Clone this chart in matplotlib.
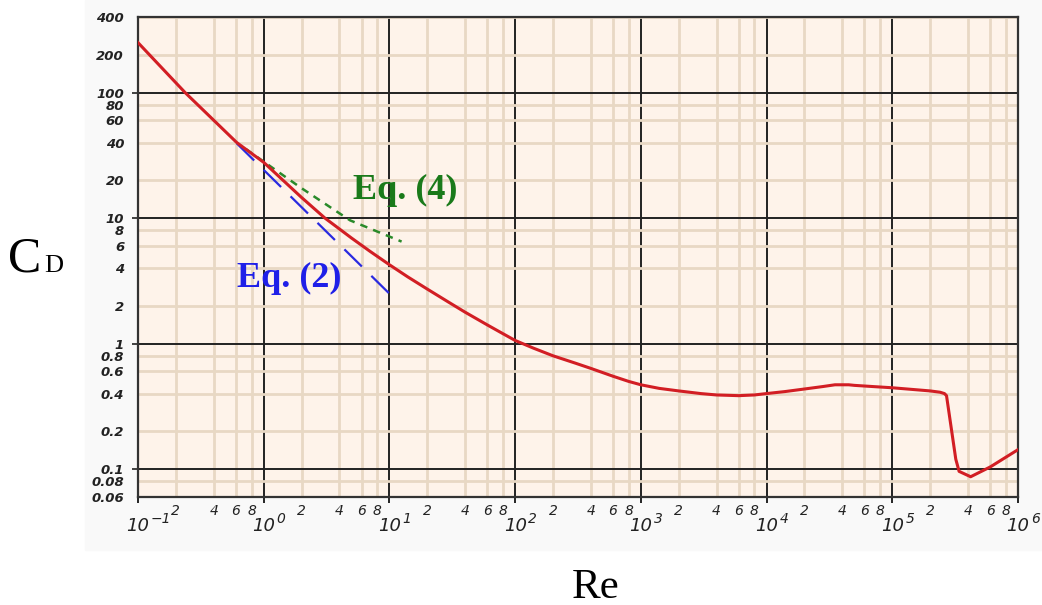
import numpy as np
import matplotlib
matplotlib.use('Agg')
from matplotlib import pyplot as plt
from matplotlib.ticker import FixedLocator, NullFormatter
from matplotlib.patches import Rectangle

# drag curve of a sphere
re_curve = [0.1, 0.237, 0.61, 1, 2, 3.07, 5, 7, 10, 14, 20, 30, 40, 60, 80, 100, 140, 200,
            300, 400, 600, 800, 1000, 1400, 2000, 3000, 4000, 6000, 8000, 1e4, 1.4e4, 2e4,
            2.8e4, 3.5e4, 4.5e4, 5e4, 7e4, 1e5, 2e5, 2.4e5, 2.6e5, 2.7e5, 3.2e5, 3.4e5,
            4.2e5, 6e5, 1e6]
cd_curve = [250, 100, 40, 27.8, 14.6, 10, 6.93, 5.44, 4.25, 3.40, 2.72, 2.12, 1.78, 1.41, 1.20,
            1.06, 0.92, 0.80, 0.70, 0.635, 0.55, 0.50, 0.47, 0.44, 0.42, 0.40, 0.39, 0.385,
            0.39, 0.40, 0.415, 0.435, 0.455, 0.47, 0.47, 0.465, 0.455, 0.445, 0.42, 0.41,
            0.40, 0.385, 0.12, 0.096, 0.087, 0.104, 0.143]

# Eq. (2) and Eq. (4) approximations
re_eq2 = [0.61, 10]
cd_eq2 = [39.4, 2.5]
re_eq4 = [0.72, 1.95, 4.86, 12.5]
cd_eq4 = [35.5, 17.6, 9.6, 6.5]

y_major = [0.1, 1, 10, 100]
y_major_lbl = ['0.1', '1', '10', '100']
y_minor = [0.06, 0.08, 0.2, 0.4, 0.6, 0.8, 2, 4, 6, 8, 20, 40, 60, 80, 200, 400]
y_minor_lbl = ['0.06', '0.08', '0.2', '0.4', '0.6', '0.8', '2', '4', '6', '8',
               '20', '40', '60', '80', '200', '400']
x_exp = [-1, 0, 1, 2, 3, 4, 5, 6]
x_sub = [2, 4, 6, 8]

fig = plt.figure(figsize=(10.42, 6.05), dpi=100)
fig.patches.append(Rectangle((85/1042, 1-550/605), 957/1042, 550/605,
                             transform=fig.transFigure, color='#f9f9f9', zorder=-5))
ax = fig.add_axes([138/1042, 1-497/605, 880/1042, 480/605])
ax.set_facecolor('#fef3ea')
ax.set_xscale('log')
ax.set_yscale('log')
ax.set_xlim(0.1, 1e6)
ax.set_ylim(0.06, 400)

tickfont = dict(style='oblique', family='DejaVu Sans')

# y axis
ax.yaxis.set_major_locator(FixedLocator(y_major))
ax.yaxis.set_minor_locator(FixedLocator(y_minor))
ax.set_yticklabels(y_major_lbl, fontsize=9.5, weight='bold', **tickfont)
ax.set_yticklabels(y_minor_lbl, minor=True, fontsize=9.5, weight='bold', **tickfont)
ax.tick_params(axis='y', which='major', length=4, pad=6, width=1.2, colors='#222222')
ax.tick_params(axis='y', which='minor', length=0, pad=10, colors='#222222')

# x axis
xmaj = [10.0**e for e in x_exp]
xmin = [s * 10.0**e for e in x_exp[:-1] for s in x_sub]
ax.xaxis.set_major_locator(FixedLocator(xmaj))
ax.xaxis.set_minor_locator(FixedLocator(xmin))
ax.xaxis.set_major_formatter(NullFormatter())
ax.set_xticklabels([str(s) for e in x_exp[:-1] for s in x_sub], minor=True,
                   fontsize=10, **tickfont)
ax.tick_params(axis='x', which='major', length=4, width=1.2)
ax.tick_params(axis='x', which='minor', length=0, pad=5, colors='#222222')

trans = ax.get_xaxis_transform()
for e, v in zip(x_exp, xmaj):
    ax.text(v, -0.0604, '10', transform=trans, ha='center', va='center',
            fontsize=13, color='#222222', **tickfont)
    ax.annotate(str(e).replace('-', '\u2212'), xy=(v, -0.0604), xycoords=trans,
                xytext=(13, 7), textcoords='offset pixels', ha='left', va='center',
                fontsize=10, color='#222222', **tickfont)

ax.grid(which='minor', color='#e8d8c4', linewidth=2)
ax.grid(which='major', color='#222222', linewidth=1.4)
ax.set_axisbelow(True)
for s in ax.spines.values():
    s.set_color('#333333')
    s.set_linewidth(1.6)

ax.plot(re_curve, cd_curve, color='#d21e24', linewidth=2.2, zorder=5)
ax.plot(re_eq2, cd_eq2, color='#2a2ae0', linewidth=1.6, dashes=(11, 6), zorder=4)
ax.plot(re_eq4, cd_eq4, color='#2a8a2a', linewidth=1.8, dashes=(3, 2.5), zorder=4)

serif = 'Liberation Serif'
fig.text(405/1042, 1-190/605, 'Eq. (4)', family=serif, weight='bold', fontsize=26,
         color='#1a7a1a', ha='center', va='center')
fig.text(289/1042, 1-278/605, 'Eq. (2)', family=serif, weight='bold', fontsize=26,
         color='#1f1fe8', ha='center', va='center')

fig.text(8/1042, 1-272/605, 'C', family=serif, fontsize=36, ha='left', va='baseline')
fig.text(44/1042, 1-272/605, 'D', family=serif, fontsize=19, ha='left', va='baseline')
fig.text(596/1042, 1-598/605, 'Re', family=serif, fontsize=31, ha='center', va='baseline')

fig.savefig('out.png', dpi=100)
